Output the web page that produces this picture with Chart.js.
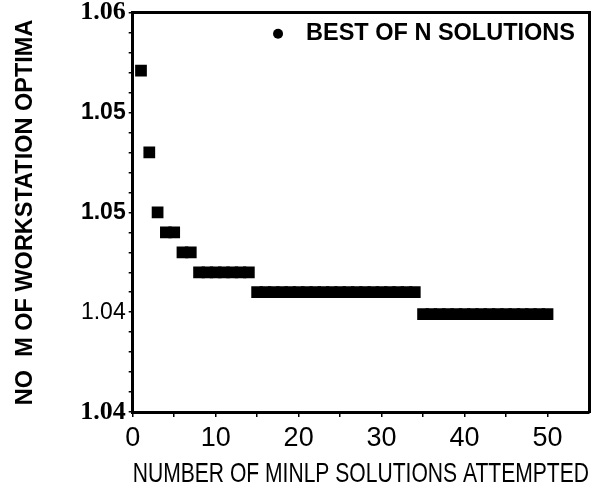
<!DOCTYPE html>
<html>
<head>
<meta charset="utf-8">
<script src="https://cdn.jsdelivr.net/npm/chart.js@4/dist/chart.umd.min.js"></script>
<style>
  body { margin: 0; background: #fff; }
  canvas { display: block; }
</style>
</head>
<body>
<canvas id="chart" width="610" height="493"></canvas>
<script>
// N = number of MINLP solutions attempted
const nValues = [1, 2, 3, 4, 5, 6, 7, 8, 9, 10, 11, 12, 13, 14, 15, 16, 17, 18, 19, 20,
  21, 22, 23, 24, 25, 26, 27, 28, 29, 30, 31, 32, 33, 34, 35, 36, 37, 38, 39, 40,
  41, 42, 43, 44, 45, 46, 47, 48, 49, 50];
// best of N solutions
const bestValues = [1.0571, 1.0530, 1.0500, 1.0490, 1.0490, 1.0480, 1.0480,
  1.0470, 1.0470, 1.0470, 1.0470, 1.0470, 1.0470, 1.0470,
  1.0460, 1.0460, 1.0460, 1.0460, 1.0460, 1.0460, 1.0460, 1.0460, 1.0460, 1.0460,
  1.0460, 1.0460, 1.0460, 1.0460, 1.0460, 1.0460, 1.0460, 1.0460, 1.0460, 1.0460,
  1.0449, 1.0449, 1.0449, 1.0449, 1.0449, 1.0449, 1.0449, 1.0449,
  1.0449, 1.0449, 1.0449, 1.0449, 1.0449, 1.0449, 1.0449, 1.0449];

const xTicks = [0, 5, 10, 15, 20, 25, 30, 35, 40, 45, 50];
const xTickLabels = ['0', '', '10', '', '20', '', '30', '', '40', '', '50'];
const yTicks = [1.040, 1.041, 1.042, 1.043, 1.044, 1.045, 1.046, 1.047, 1.048, 1.049, 1.050,
  1.051, 1.052, 1.053, 1.054, 1.055, 1.056, 1.057, 1.058, 1.059, 1.060];
const yTickLabels = ['1.04', '', '', '', '', '1.04', '', '', '', '', '1.05',
  '', '', '', '', '1.05', '', '', '', '', '1.06'];

const serifBold = { family: '"Liberation Serif", "Times New Roman", serif', weight: 'bold', size: 26, lineHeight: 0.75 };
const sansBold = { family: '"Liberation Sans", Arial, sans-serif', weight: 'bold', size: 23, lineHeight: 0.75 };
const sansReg = { family: '"Liberation Sans", Arial, sans-serif', weight: 'normal', size: 23, lineHeight: 0.75 };
// fonts per labelled tick index (the scan mixes typefaces)
const yTickFonts = { 0: serifBold, 5: sansReg, 10: sansBold, 15: sansBold, 20: serifBold };

const ink = '#000';
const narrow = '"Liberation Sans Narrow", "Liberation Sans", Arial, sans-serif';

// legend sits inside the plot, top right
const insideLegend = {
  id: 'insideLegend',
  afterDatasetsDraw(chart) {
    const { ctx, chartArea } = chart;
    const label = chart.data.datasets[0].label;
    ctx.save();
    ctx.font = 'bold 23.5px "Liberation Sans", Arial, sans-serif';
    ctx.fillStyle = ink;
    ctx.textAlign = 'right';
    ctx.textBaseline = 'middle';
    const xr = chartArea.right - 14;
    const yc = chartArea.top + 21;
    ctx.fillText(label, xr, yc);
    const w = ctx.measureText(label).width;
    ctx.beginPath();
    ctx.arc(xr - w - 28, yc, 5, 0, Math.PI * 2);
    ctx.fill();
    ctx.restore();
  }
};

new Chart(document.getElementById('chart'), {
  type: 'scatter',
  data: {
    datasets: [{
      label: 'BEST OF N SOLUTIONS',
      data: nValues.map((n, i) => ({ x: n, y: bestValues[i] })),
      pointStyle: 'rect',
      pointRadius: 8.3,
      pointHoverRadius: 8.3,
      backgroundColor: ink,
      borderWidth: 0
    }]
  },
  options: {
    responsive: false,
    animation: false,
    layout: { padding: { top: 0, right: 13, left: 0, bottom: 0 } },
    plugins: {
      tooltip: { enabled: false },
      legend: { display: false }
    },
    scales: {
      x: {
        type: 'linear',
        min: 0,
        max: 55,
        afterBuildTicks: s => { s.ticks = xTicks.map(v => ({ value: v })); },
        ticks: {
          color: ink,
          padding: 8,
          maxRotation: 0,
          autoSkip: false,
          font: { family: narrow, size: 27, lineHeight: 1 },
          callback: (v, i) => xTickLabels[i]
        },
        grid: { drawOnChartArea: false, tickLength: 5, color: ink, lineWidth: 1.5 },
        border: { color: ink, width: 3 },
        title: {
          display: true,
          text: 'NUMBER OF MINLP SOLUTIONS ATTEMPTED',
          color: ink,
          padding: { top: 0, bottom: 5 },
          font: { family: narrow, size: 28, lineHeight: 1 }
        }
      },
      x2: {
        type: 'linear',
        position: 'top',
        display: true,
        min: 0,
        max: 55,
        ticks: { display: false },
        grid: { display: false },
        border: { color: ink, width: 3 }
      },
      y: {
        type: 'linear',
        min: 1.04,
        max: 1.06,
        afterBuildTicks: s => { s.ticks = yTicks.map(v => ({ value: v })); },
        ticks: {
          color: ink,
          padding: 3,
          autoSkip: false,
          font: c => yTickFonts[c.index] || sansReg,
          callback: (v, i) => yTickLabels[i]
        },
        grid: { drawOnChartArea: false, tickLength: 4, color: ink, lineWidth: 1.5 },
        border: { color: ink, width: 3 },
        title: {
          display: true,
          text: 'NO  M OF WORKSTATION OPTIMA',
          color: ink,
          padding: { top: 11, bottom: 38 },
          font: { family: '"Liberation Sans", Arial, sans-serif', weight: 'bold', size: 23.5 }
        }
      },
      y2: {
        type: 'linear',
        position: 'right',
        display: true,
        min: 1.04,
        max: 1.06,
        ticks: { display: false },
        grid: { display: false },
        border: { color: ink, width: 3 }
      }
    }
  },
  plugins: [insideLegend]
});
</script>
</body>
</html>
